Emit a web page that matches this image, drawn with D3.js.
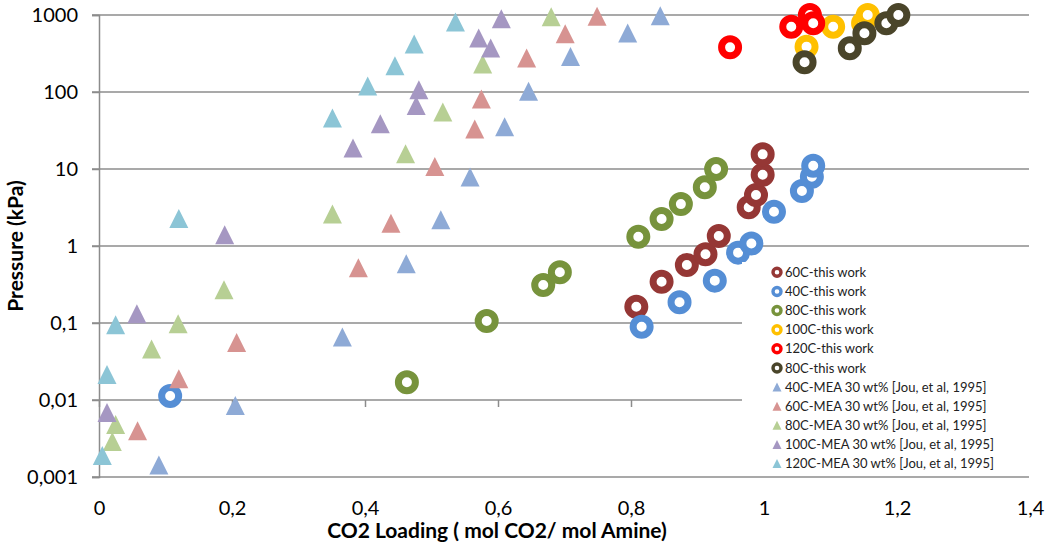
<!DOCTYPE html>
<html>
<head>
<meta charset="utf-8">
<script src="https://cdnjs.cloudflare.com/ajax/libs/d3/7.8.5/d3.min.js"></script>
<style>
  body { margin: 0; background: #fff; }
  svg text { font-family: Lato, "Open Sans", sans-serif; fill: #000; }
</style>
</head>
<body>
<script>
// "this work" series (rings): [loading, pressure kPa]
var work60 = [[0.808,0.163],[0.846,0.344],[0.884,0.567],[0.912,0.78],[0.932,1.35],[0.977,3.18],[0.988,4.6],[0.998,8.4],[0.998,15.5]];
var work40 = [[0.107,0.0113],[0.816,0.0895],[0.873,0.186],[0.926,0.355],[0.961,0.82],[0.981,1.08],[1.015,2.78],[1.057,5.17],[1.072,7.94],[1.074,11.0]];
var work80 = [[0.463,0.017],[0.583,0.106],[0.668,0.312],[0.693,0.455],[0.811,1.32],[0.846,2.24],[0.875,3.5],[0.911,5.78],[0.928,10.0]];
var work100 = [[1.064,388],[1.104,705],[1.149,780],[1.156,1000]];
var work120 = [[0.949,380],[1.041,705],[1.069,1000],[1.074,780]];
var work80b = [[1.061,243],[1.129,369],[1.151,578],[1.184,780],[1.202,1000]];

// Jou et al. 1995, MEA 30 wt% (triangles)
var jou40 = [[0.090,0.00143],[0.205,0.0085],[0.366,0.066],[0.462,0.59],[0.514,2.2],[0.558,7.9],[0.610,35.3],[0.646,102],[0.709,290],[0.795,583],[0.844,975]];
var jou60 = [[0.058,0.004],[0.120,0.0189],[0.207,0.056],[0.390,0.52],[0.439,1.97],[0.505,10.8],[0.565,33],[0.575,81],[0.643,276],[0.701,571],[0.749,965]];
var jou80 = [[0.020,0.0029],[0.025,0.0048],[0.079,0.046],[0.119,0.098],[0.188,0.27],[0.351,2.6],[0.461,15.8],[0.517,55],[0.577,231],[0.680,950]];
var jou100 = [[0.012,0.0069],[0.057,0.132],[0.189,1.40],[0.382,18.7],[0.423,38.6],[0.477,67],[0.481,107],[0.571,502],[0.589,373],[0.605,895]];
var jou120 = [[0.005,0.0019],[0.012,0.0214],[0.025,0.095],[0.120,2.27],[0.351,46],[0.404,120],[0.445,220],[0.474,420],[0.536,811]];

var xTicks = [0, 0.2, 0.4, 0.6, 0.8, 1, 1.2, 1.4];
var xTickLabels = ["0", "0,2", "0,4", "0,6", "0,8", "1", "1,2", "1,4"];
var yTicks = [0.001, 0.01, 0.1, 1, 10, 100, 1000];
var yTickLabels = ["0,001", "0,01", "0,1", "1", "10", "100", "1000"];

var series = [
  {name: "60C-this work", data: work60, color: "#953735", type: "ring"},
  {name: "40C-this work", data: work40, color: "#558ed5", type: "ring"},
  {name: "80C-this work", data: work80, color: "#77933c", type: "ring"},
  {name: "100C-this work", data: work100, color: "#ffc000", type: "ring"},
  {name: "120C-this work", data: work120, color: "#ff0000", type: "ring"},
  {name: "80C-this work", data: work80b, color: "#4a452a", type: "ring"},
  {name: "40C-MEA 30 wt% [Jou, et al, 1995]", data: jou40, color: "#8eaad6", type: "tri"},
  {name: "60C-MEA 30 wt% [Jou, et al, 1995]", data: jou60, color: "#d79391", type: "tri"},
  {name: "80C-MEA 30 wt% [Jou, et al, 1995]", data: jou80, color: "#b7cf94", type: "tri"},
  {name: "100C-MEA 30 wt% [Jou, et al, 1995]", data: jou100, color: "#a597c2", type: "tri"},
  {name: "120C-MEA 30 wt% [Jou, et al, 1995]", data: jou120, color: "#8cc5d6", type: "tri"}
];

var width = 1048, height = 544;
var plot = {left: 99, right: 1030, top: 15, bottom: 477};

var x = d3.scaleLinear().domain([0, 1.4]).range([plot.left, plot.right]);
var y = d3.scaleLog().domain([0.001, 1000]).range([plot.bottom, plot.top]);

var svg = d3.select("body").append("svg")
    .attr("width", width)
    .attr("height", height);

// triangle centred on its bounding box
function triPath(s) {
  var h = s / 2;
  return "M0," + (-h) + "L" + h + "," + h + "L" + (-h) + "," + h + "Z";
}

// gridlines
svg.append("g")
  .selectAll("line")
  .data(yTicks)
  .enter().append("line")
    .attr("x1", plot.left - 7)
    .attr("x2", plot.right - 1)
    .attr("y1", function(d) { return y(d); })
    .attr("y2", function(d) { return y(d); })
    .style("stroke", "#8c8c8c")
    .style("stroke-width", 1.5);

// y axis
var yAxis = d3.axisLeft(y)
    .tickValues(yTicks)
    .tickSize(7)
    .tickPadding(14)
    .tickFormat(function(d, i) { return yTickLabels[i]; });

svg.append("g")
    .attr("class", "y axis")
    .attr("transform", "translate(" + plot.left + ",0)")
    .call(yAxis)
    .call(function(g) {
      g.select(".domain").style("stroke", "#8c8c8c").style("stroke-width", 1.5);
      g.selectAll(".tick line").style("stroke", "#8c8c8c").style("stroke-width", 1.5);
      g.selectAll(".tick text").style("font-size", "20px").style("font-family", "Lato");
    });

// x axis crosses at 0,01 (tick marks only)
var xAxis = d3.axisBottom(x)
    .tickValues(xTicks)
    .tickSize(7)
    .tickSizeOuter(0)
    .tickFormat("");

svg.append("g")
    .attr("class", "x axis")
    .attr("transform", "translate(0," + y(0.01) + ")")
    .call(xAxis)
    .call(function(g) {
      g.select(".domain").remove();
      g.selectAll(".tick line").style("stroke", "#8c8c8c").style("stroke-width", 1.5);
    });

// x labels at bottom
var xLabels = d3.axisBottom(x)
    .tickValues(xTicks)
    .tickSize(0)
    .tickPadding(24)
    .tickFormat(function(d, i) { return xTickLabels[i]; });

svg.append("g")
    .attr("transform", "translate(0," + plot.bottom + ")")
    .call(xLabels)
    .call(function(g) {
      g.select(".domain").remove();
      g.selectAll(".tick text").style("font-size", "20px").style("font-family", "Lato");
    });

// axis titles
svg.append("text")
    .attr("x", 497)
    .attr("y", 538)
    .style("text-anchor", "middle")
    .style("font-size", "21px")
    .style("font-weight", "bold")
    .text("CO2 Loading ( mol CO2/ mol Amine)");

svg.append("text")
    .attr("transform", "translate(23,246) rotate(-90)")
    .style("text-anchor", "middle")
    .style("font-size", "21px")
    .style("font-weight", "bold")
    .text("Pressure (kPa)");

// points
var groups = svg.selectAll(".series")
    .data(series)
  .enter().append("g")
    .attr("class", "series");

groups.each(function(s) {
  var g = d3.select(this);
  if (s.type === "ring") {
    g.selectAll("circle")
        .data(s.data)
      .enter().append("circle")
        .attr("cx", function(d) { return x(d[0]); })
        .attr("cy", function(d) { return y(d[1]); })
        .attr("r", 8.5)
        .style("fill", "#fff")
        .style("stroke", s.color)
        .style("stroke-width", 7);
  } else {
    g.selectAll("path")
        .data(s.data)
      .enter().append("path")
        .attr("d", triPath(19))
        .attr("transform", function(d) { return "translate(" + x(d[0]) + "," + y(d[1]) + ")"; })
        .style("fill", s.color);
  }
});

// legend
svg.append("rect")
    .attr("x", 742)
    .attr("y", 262)
    .attr("width", 290)
    .attr("height", 211)
    .style("fill", "#fff");

var legend = svg.selectAll(".legend")
    .data(series)
  .enter().append("g")
    .attr("class", "legend")
    .attr("transform", function(d, i) { return "translate(777," + (272.3 + i * 19.13) + ")"; });

legend.each(function(s) {
  var g = d3.select(this);
  if (s.type === "ring") {
    g.append("circle")
        .attr("r", 4)
        .style("fill", "#fff")
        .style("stroke", s.color)
        .style("stroke-width", 3.4);
  } else {
    g.append("path")
        .attr("d", triPath(9))
        .style("fill", s.color);
  }
});

legend.append("text")
    .attr("x", 8)
    .attr("y", 0)
    .attr("dy", ".35em")
    .style("font-size", "13px")
    .style("fill", "#222")
    .text(function(d) { return d.name; });
</script>
</body>
</html>
